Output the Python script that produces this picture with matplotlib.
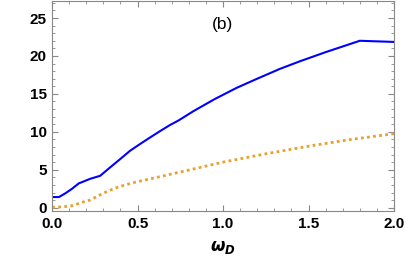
import matplotlib
matplotlib.use("Agg")
import matplotlib.pyplot as plt
from matplotlib.ticker import MultipleLocator, FormatStrFormatter

# solid blue curve
x_blue = [0.0, 0.04, 0.078, 0.117, 0.156, 0.195, 0.222, 0.281, 0.339, 0.398,
          0.456, 0.515, 0.573, 0.632, 0.69, 0.74, 0.825, 0.95, 1.08, 1.2,
          1.333, 1.45, 1.6, 1.8, 2.0]
y_blue = [1.4, 1.4, 1.9, 2.5, 3.2, 3.55, 3.8, 4.2, 5.3, 6.4,
          7.5, 8.4, 9.25, 10.1, 10.9, 11.5, 12.7, 14.3, 15.8, 17.0,
          18.3, 19.3, 20.5, 22.0, 21.85]
# dotted orange curve
x_orange = [0.0, 0.06, 0.117, 0.195, 0.222, 0.29, 0.339, 0.39, 0.485, 0.585,
            0.74, 0.865, 1.0, 1.25, 1.5, 1.75, 2.0]
y_orange = [0.05, 0.1, 0.26, 0.85, 1.0, 1.8, 2.3, 2.75, 3.35, 3.85,
            4.65, 5.3, 6.0, 7.1, 8.1, 9.0, 9.75]

plt.rcParams["font.family"] = ["Liberation Sans", "DejaVu Sans"]
plt.rcParams["mathtext.fontset"] = "dejavusans"

fig = plt.figure(figsize=(4.07, 2.66), dpi=100)
ax = fig.add_axes([0.128, 0.205, 0.84, 0.79])

ax.plot(x_blue, y_blue, color="#0000FF", lw=1.5)
ax.plot(x_orange, y_orange, color="#E8A02E", lw=2.0, ls=(0, (1, 1.2)))

ax.set_xlim(0, 2.0)
ax.set_ylim(-0.5, 27.2)
ax.xaxis.set_major_locator(MultipleLocator(0.5))
ax.xaxis.set_minor_locator(MultipleLocator(0.1))
ax.yaxis.set_major_locator(MultipleLocator(5))
ax.yaxis.set_minor_locator(MultipleLocator(1))
ax.xaxis.set_major_formatter(FormatStrFormatter("%.1f"))
ax.tick_params(which="both", direction="in", top=True, right=True, color="#888")
ax.tick_params(which="major", length=4, labelsize=11, pad=4)
ax.tick_params(which="minor", length=2)
for lab in ax.get_xticklabels() + ax.get_yticklabels():
    lab.set_fontweight("bold")
for sp in ax.spines.values():
    sp.set_color("#888")
    sp.set_linewidth(0.8)

ax.set_xlabel(r"$\mathbfit{\omega}_{\mathbfit{D}}$", fontsize=12, labelpad=6)
ax.text(0.499, 0.925, "(b)", transform=ax.transAxes, ha="center", va="top", fontsize=12.5)

fig.savefig("out.png", dpi=100)
